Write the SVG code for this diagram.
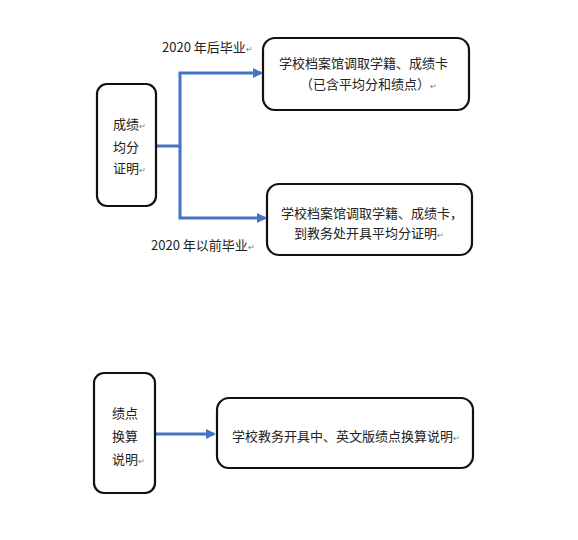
<svg xmlns="http://www.w3.org/2000/svg" width="578" height="540" viewBox="0 0 578 540">
<style>
.box{fill:#fff;stroke:#111;stroke-width:2.2}
.t{font-family:"Noto Sans CJK SC","Liberation Sans",sans-serif;font-size:13px;fill:#222}
.m{font-size:8px;fill:#777}
.c{fill:none;stroke:#4472C4;stroke-width:3}
</style>
<defs>
<marker id="ah" markerWidth="10" markerHeight="10" refX="8" refY="5" orient="auto" markerUnits="userSpaceOnUse">
<path d="M0,0 L10,5 L0,10 Z" fill="#4472C4"/>
</marker>
</defs>
<rect width="578" height="540" fill="#fff"/>
<g id="connectors">
<path class="c" d="M156,146 H180 V73 H261" marker-end="url(#ah)"/>
<path class="c" d="M180,146 V218 H265" marker-end="url(#ah)"/>
<path class="c" d="M155,434 H214" marker-end="url(#ah)"/>
<text class="t" x="162" y="52">2020 年后毕业<tspan class="m">↵</tspan></text>
<text class="t" x="151" y="250">2020 年以前毕业<tspan class="m">↵</tspan></text>
</g>
<g id="n1">
<rect class="box" x="97" y="84" width="59" height="122" rx="10"/>
<text class="t" x="113" y="129">成绩<tspan class="m">↵</tspan></text>
<text class="t" x="113" y="152">均分</text>
<text class="t" x="113" y="173">证明<tspan class="m">↵</tspan></text>
</g>
<g id="n2">
<rect class="box" x="263" y="38" width="206" height="72" rx="12"/>
<text class="t" x="279" y="68">学校档案馆调取学籍、成绩卡</text>
<text class="t" x="300" y="89">（已含平均分和绩点）<tspan class="m">↵</tspan></text>
</g>
<g id="n3">
<rect class="box" x="267" y="184" width="205" height="71" rx="12"/>
<text class="t" x="281" y="218">学校档案馆调取学籍、成绩卡，</text>
<text class="t" x="294" y="238">到教务处开具平均分证明<tspan class="m">↵</tspan></text>
</g>
<g id="n4">
<rect class="box" x="94" y="373" width="61" height="120" rx="10"/>
<text class="t" x="112" y="418">绩点</text>
<text class="t" x="112" y="441">换算</text>
<text class="t" x="112" y="464">说明<tspan class="m">↵</tspan></text>
</g>
<g id="n5">
<rect class="box" x="217" y="398" width="256" height="70" rx="12"/>
<text class="t" x="232" y="441">学校教务开具中、英文版绩点换算说明<tspan class="m">↵</tspan></text>
</g>
</svg>
